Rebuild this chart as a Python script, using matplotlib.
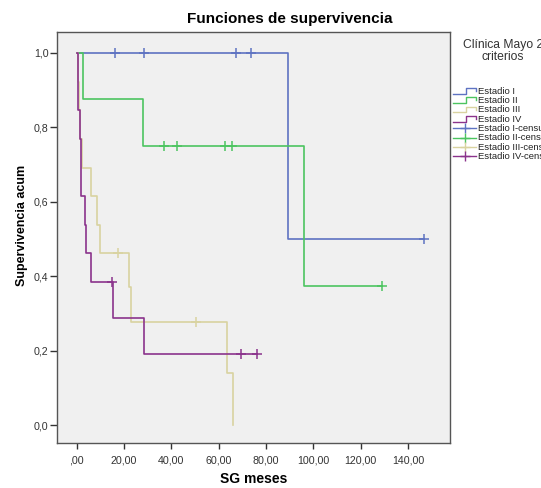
import matplotlib
matplotlib.use("Agg")
import matplotlib.pyplot as plt
from matplotlib.lines import Line2D
from matplotlib.ticker import FuncFormatter

plt.rcParams['font.family'] = ['Liberation Sans', 'DejaVu Sans']

# Kaplan-Meier steps per stage (time in months, cumulative survival)
t_est1 = [0.0, 89.2, 146.8]
s_est1 = [1.0, 0.5, 0.5]
cens_t_est1 = [16.2, 28.6, 67.3, 73.7, 146.8]
cens_s_est1 = [1.0, 1.0, 1.0, 1.0, 0.5]

t_est2 = [0.0, 2.7, 28.2, 96.1, 129.2]
s_est2 = [1.0, 0.875, 0.75, 0.375, 0.375]
cens_t_est2 = [37.0, 42.5, 62.5, 65.6, 129.2]
cens_s_est2 = [0.75, 0.75, 0.75, 0.75, 0.375]

t_est3 = [0.0, 0.5, 0.8, 1.5, 2.4, 5.9, 8.7, 10.0, 22.0, 22.8, 63.4, 65.9]
s_est3 = [1.0, 0.923, 0.846, 0.769, 0.692, 0.615, 0.538, 0.462, 0.370, 0.277, 0.139, 0.0]
cens_t_est3 = [17.5, 50.4]
cens_s_est3 = [0.462, 0.277]

t_est4 = [0.0, 0.4, 0.6, 1.5, 1.9, 2.0, 3.6, 3.8, 5.9, 15.5, 28.6, 76.1]
s_est4 = [1.0, 0.923, 0.846, 0.769, 0.692, 0.615, 0.538, 0.462, 0.385, 0.288, 0.192, 0.192]
cens_t_est4 = [15.0, 69.6, 76.1]
cens_s_est4 = [0.385, 0.192, 0.192]

labels = ['Estadio I', 'Estadio II', 'Estadio III', 'Estadio IV']
colors = ['#5e73c2', '#4cc460', '#d9d3a0', '#8b338c']

x_ticks = [0, 20, 40, 60, 80, 100, 120, 140]
y_ticks = [0.0, 0.2, 0.4, 0.6, 0.8, 1.0]

W, H = 541, 488
fig = plt.figure(figsize=(W / 100, H / 100), dpi=100)
ax = fig.add_axes([57 / W, 1 - 443 / H, (450 - 57) / W, (443 - 32) / H])
ax.set_facecolor('#f0f0f0')

curves = [
    (t_est1, s_est1, cens_t_est1, cens_s_est1),
    (t_est2, s_est2, cens_t_est2, cens_s_est2),
    (t_est3, s_est3, cens_t_est3, cens_s_est3),
    (t_est4, s_est4, cens_t_est4, cens_s_est4),
]
for (t, s, ct, cs), c in zip(curves, colors):
    ax.step(t, s, where='post', color=c, lw=1.2, zorder=3)
    ax.plot(ct, cs, ls='none', marker='+', ms=7, mew=1.1, color=c, zorder=4)

ax.set_xlim(-8.3, 157.8)
ax.set_ylim(-0.048, 1.056)
ax.set_xticks(x_ticks)
ax.set_yticks(y_ticks)


def fmt_x(v, pos):
    s = '{:.2f}'.format(v).replace('.', ',')
    return s[1:] if s.startswith('0,') else s


def fmt_y(v, pos):
    return '{:.1f}'.format(v).replace('.', ',')


ax.xaxis.set_major_formatter(FuncFormatter(fmt_x))
ax.yaxis.set_major_formatter(FuncFormatter(fmt_y))
ax.tick_params(axis='x', length=4, width=1, pad=5, labelsize=7.7, colors='#333333')
ax.tick_params(axis='y', length=5, width=1, pad=1, labelsize=7.7, colors='#333333')
for sp in ax.spines.values():
    sp.set_color('#555555')
    sp.set_linewidth(1)

fig.text(290 / W, 1 - 19 / H, 'Funciones de supervivencia', ha='center', va='center',
         fontsize=11, fontweight='bold')
fig.text(254 / W, 1 - 479 / H, 'SG meses', ha='center', va='center',
         fontsize=10, fontweight='bold')
fig.text(22 / W, 1 - 225 / H, 'Supervivencia acum', ha='center', va='center',
         rotation=90, fontsize=9, fontweight='bold')

# legend drawn by hand, it runs off the right edge
fig.text(503 / W, 1 - 51 / H, 'Clínica Mayo 2\ncriterios',
         ha='center', va='center', multialignment='center', fontsize=8.7, color='#333333',
         linespacing=1.0)

row_y = 91
for i in range(8):
    c = colors[i % 4]
    yy = 1 - (row_y + i * 9.35) / H
    x0, x1 = 453 / W, 476 / W
    if i < 4:
        hx = [x0, x0 + 0.55 * (x1 - x0), x0 + 0.55 * (x1 - x0), x1, x1]
        hy = [yy - 2.5 / H, yy - 2.5 / H, yy + 3 / H, yy + 3 / H, yy]
        fig.add_artist(Line2D(hx, hy, color=c, lw=1.0, transform=fig.transFigure))
        lab = labels[i]
    else:
        fig.add_artist(Line2D([x0, x1], [yy, yy], color=c, lw=1.0, transform=fig.transFigure))
        fig.add_artist(Line2D([(x0 + x1) / 2], [yy], marker='+', ms=7, mew=1.0, color=c,
                              transform=fig.transFigure))
        lab = labels[i - 4] + '-censurado'
    fig.text(478 / W, yy, lab, ha='left', va='center', fontsize=6.8, color='#222222')

fig.savefig('out.png', dpi=100)
